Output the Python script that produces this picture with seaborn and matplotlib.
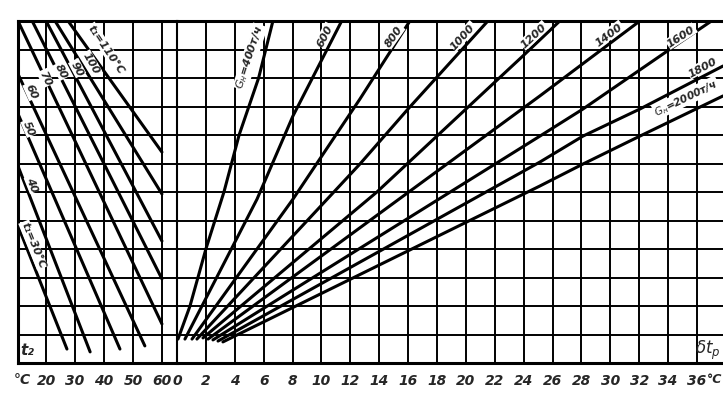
import matplotlib
matplotlib.use("Agg")
import matplotlib.pyplot as plt
import pandas as pd
import seaborn as sns

# ---------------- data ----------------
# Left panel: isotherms of inlet temperature t1 (x = t2, °C; y = nomogram scale)
t1_levels = [30, 40, 50, 60, 70, 80, 90, 100, 110]
t1_line_t2 = [
    [10.3, 27.2],
    [10.3, 35.2],
    [10.3, 45.5],
    [10.3, 54.1],
    [10.3, 60.0],
    [15.2, 60.0],
    [20.0, 60.0],
    [23.1, 60.0],
    [27.6, 60.0],
]
t1_line_y = [
    [4.81, 0.49],
    [6.91, 0.39],
    [8.74, 0.49],
    [10.14, 0.60],
    [12.0, 1.37],
    [12.0, 2.95],
    [12.0, 4.28],
    [12.0, 5.93],
    [12.0, 7.40],
]

# Right panel: water flow lines G_н (x = δt_p, °C; y = nomogram scale)
g_levels = [400, 600, 800, 1000, 1200, 1400, 1600, 1800, 2000]
g_line_dt = [
    [0.07, 0.9, 2.0, 3.25, 4.3, 5.65, 6.64],
    [0.55, 5.54, 8.03, 11.4],
    [1.04, 8.03, 12.66, 16.12],
    [1.38, 12.66, 15.99, 21.52],
    [1.8, 13.84, 17.99, 23.94, 26.5],
    [2.15, 25.12, 32.04],
    [2.49, 25.12, 28.1, 34.1, 37.0],
    [2.84, 25.12, 28.1, 32.04, 37.8],
    [3.18, 25.12, 28.1, 32.04, 37.8],
]
g_line_y = [
    [0.84, 2.0, 4.0, 6.0, 8.0, 10.0, 12.0],
    [0.84, 5.75, 8.67, 12.0],
    [0.84, 5.75, 9.26, 12.0],
    [0.84, 6.98, 8.91, 12.0],
    [0.88, 6.0, 7.96, 10.77, 12.0],
    [0.84, 9.37, 12.0],
    [0.81, 7.96, 8.91, 11.0, 12.0],
    [0.77, 7.05, 7.96, 8.91, 10.42],
    [0.74, 6.21, 6.98, 7.96, 9.37],
]

t2_ticks = [20, 30, 40, 50, 60]
dt_ticks = list(range(0, 37, 2))
y_grid = list(range(1, 12))

t1_labels = ["t₁=30°C", "40", "50", "60", "70", "80", "90", "100", "t₁=110°C"]
g_labels = [r"$G_н$=400т/ч", "600", "800", "1000", "1200", "1400", "1600", "1800",
            r"$G_н$=2000т/ч"]

# ---------------- frames ----------------
rows = []
for lvl, xs, ys in zip(t1_levels, t1_line_t2, t1_line_y):
    for i, (x, y) in enumerate(zip(xs, ys)):
        rows.append({"t1": lvl, "t2": x, "y": y, "i": i})
df_left = pd.DataFrame(rows)

rows = []
for lvl, xs, ys in zip(g_levels, g_line_dt, g_line_y):
    for i, (x, y) in enumerate(zip(xs, ys)):
        rows.append({"G": lvl, "dt": x, "y": y, "i": i})
df_right = pd.DataFrame(rows)

# ---------------- style ----------------
sns.set_style("white")
plt.rcParams["font.family"] = ["DejaVu Sans"]
plt.rcParams["mathtext.fontset"] = "dejavusans"

W, H = 723, 406
fig = plt.figure(figsize=(W / 100, H / 100), dpi=100)
axL = fig.add_axes([18 / W, 42 / H, 159 / W, 342 / H])
axR = fig.add_axes([177 / W, 42 / H, 546 / W, 342 / H])

grid_kw = dict(color="black", lw=1.4)
tick_font = dict(fontsize=10, fontstyle="italic", fontweight="bold")

for ax in (axL, axR):
    ax.set_ylim(0, 12)
    ax.set_yticks(y_grid)
    ax.set_yticklabels([])
    ax.grid(True, **grid_kw)
    ax.tick_params(length=0, pad=7)
    for s in ("top", "bottom"):
        ax.spines[s].set_linewidth(2.2)
        ax.spines[s].set_color("black")
    ax.spines["right"].set_visible(False)

axL.spines["left"].set_linewidth(2.2)
axL.spines["left"].set_color("black")
axR.spines["left"].set_linewidth(1.5)
axR.spines["left"].set_color("black")

sns.lineplot(data=df_left, x="t2", y="y", units="t1", estimator=None, sort=False,
             color="black", lw=2.2, ax=axL, legend=False)
sns.lineplot(data=df_right, x="dt", y="y", units="G", estimator=None, sort=False,
             color="black", lw=2.2, ax=axR, legend=False)

axL.set_xlim(10.3, 65.2)
axR.set_xlim(0, 37.8)
axL.set_ylim(0, 12)
axR.set_ylim(0, 12)
axL.set_xticks(t2_ticks)
axL.set_xticklabels([str(v) for v in t2_ticks], **tick_font)
axR.set_xticks(dt_ticks)
axR.set_xticklabels([str(v) for v in dt_ticks], **tick_font)
for ax in (axL, axR):
    ax.set_xlabel("")
    ax.set_ylabel("")

# unit labels under the axis
axL.text(11.7, -0.047, "°C", transform=axL.get_xaxis_transform(), ha="center",
         va="center", **tick_font)
fig.text(722.5 / W, 1 - 380 / H, "°C", ha="right", va="center",
         fontsize=9, fontstyle="italic", fontweight="bold")

# axis names inside the grid
axL.text(13.4, 0.49, "t₂", ha="center", va="center", fontsize=11,
         fontstyle="italic", fontweight="bold")
fig.text(721 / W, 1 - 350 / H, r"$\delta t_p$", ha="right", va="center",
         fontsize=12)

# curve labels
box = dict(fc="white", ec="none", pad=0.6)
lab_font = dict(fontsize=8, fontstyle="italic", fontweight="bold", zorder=5)

t1_lab_pos = [(15.5, 4.14, -68), (15.2, 6.28, -68), (14.1, 8.25, -67),
              (14.8, 9.54, -66), (19.7, 10.0, -65), (25.2, 10.25, -63),
              (30.7, 10.35, -62), (35.5, 10.53, -60), (40.7, 11.02, -56)]
for txt, (x, y, r) in zip(t1_labels, t1_lab_pos):
    axL.text(x, y, txt, rotation=r, ha="center", va="center", bbox=box,
             rotation_mode="anchor", **lab_font)

g_lab_pos = [(5.05, 10.74, 72), (10.24, 11.5, 63), (15.0, 11.47, 55),
             (19.8, 11.47, 48), (24.7, 11.5, 43), (29.9, 11.54, 37),
             (34.9, 11.47, 33), (36.4, 10.39, 28)]
for txt, (x, y, r) in zip(g_labels[:-1], g_lab_pos):
    axR.text(x, y, txt, rotation=r, ha="center", va="center", bbox=box,
             rotation_mode="anchor", **lab_font)
g2000 = dict(lab_font, fontsize=7.5)
axR.text(33.1, 8.78, g_labels[-1], rotation=26, ha="left", va="center", bbox=box,
         rotation_mode="anchor", **g2000)

fig.savefig("out.png", dpi=100)
